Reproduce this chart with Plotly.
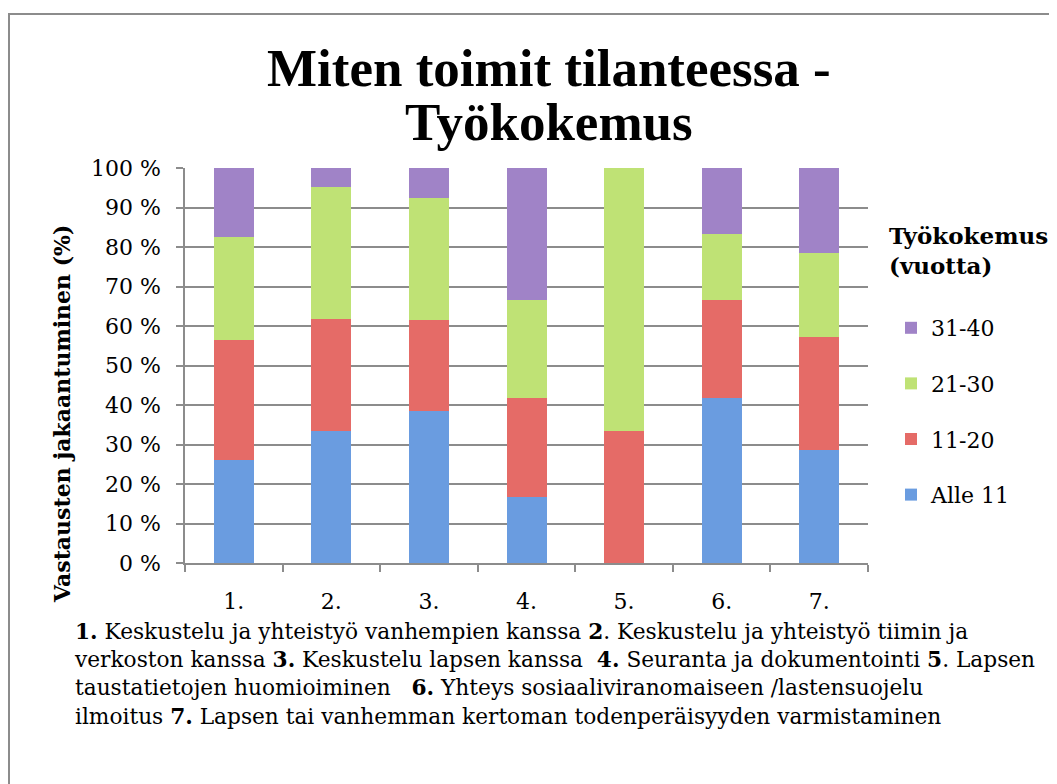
import plotly.graph_objects as go

# vastausvaihtoehdot 1.-7.
categories = ["1.", "2.", "3.", "4.", "5.", "6.", "7."]

# osuudet (%) työkokemuksen mukaan
alle_11 = [26.1, 33.3, 38.5, 16.7, 0.0, 41.7, 28.6]
v11_20 = [30.4, 28.6, 23.1, 25.0, 33.3, 25.0, 28.6]
v21_30 = [26.1, 33.3, 30.8, 25.0, 66.7, 16.7, 21.4]
v31_40 = [17.4, 4.8, 7.7, 33.3, 0.0, 16.7, 21.4]

series_names = ["Alle 11", "11-20", "21-30", "31-40"]
series_values = [alle_11, v11_20, v21_30, v31_40]
colors = ["#6a9ce0", "#e56b67", "#bfe275", "#a083c7"]

y_ticks = list(range(0, 101, 10))

FONT = "DejaVu Serif"
TITLE_FONT = "Liberation Serif"
GRAY = "#8c8c8c"

OFF = 8  # sivun oletusreunus
W, H = 1057 - OFF, 784 - OFF
ML, MT = 185 - OFF, 168 - OFF
MR, MB = W - (868 - OFF), H - (563 - OFF)
pw, ph = W - ML - MR, H - MT - MB


def px_x(p):
    return (p - OFF - ML) / pw


def px_y(p):
    return (H - MB - (p - OFF)) / ph


fig = go.Figure()
for i, (name, vals, col) in enumerate(zip(series_names, series_values, colors)):
    fig.add_trace(go.Bar(
        x=categories, y=vals, name=name, legendgroup=name,
        legendrank=len(series_names) - i,
        marker=dict(color=col, line=dict(width=0)),
    ))

fig.update_layout(
    width=W, height=H,
    barmode="stack", bargap=0.59,
    margin=dict(l=ML, r=MR, t=MT, b=MB),
    paper_bgcolor="white", plot_bgcolor="white",
    font=dict(family=FONT, size=21, color="black"),
    legend=dict(
        x=px_x(891), xanchor="left", y=px_y(307), yanchor="top",
        traceorder="grouped", tracegroupgap=24,
        font=dict(family=FONT, size=22), itemwidth=30,
        bgcolor="rgba(0,0,0,0)",
    ),
    showlegend=True,
)

fig.update_yaxes(
    range=[0, 100], tickvals=y_ticks, ticktext=[f"{v} %" for v in y_ticks],
    showgrid=True, gridcolor=GRAY, gridwidth=1.5,
    showline=True, linecolor=GRAY, linewidth=1.5,
    ticks="outside", ticklen=7, tickcolor=GRAY, tickwidth=1.5,
    ticklabelstandoff=11,
    tickfont=dict(family=FONT, size=22), zeroline=False,
)
fig.update_xaxes(
    showline=True, linecolor=GRAY, linewidth=1.5,
    ticks="outside", tickson="boundaries", ticklen=7, tickcolor=GRAY, tickwidth=1.5,
    ticklabelstandoff=18,
    tickfont=dict(family=FONT, size=22), showgrid=False,
)

# otsikko kahtena rivinä
for line, yc in [("Miten toimit tilanteessa -", 68), ("Työkokemus", 122)]:
    fig.add_annotation(
        text=f"<b>{line}</b>", xref="paper", yref="paper",
        x=px_x(549), y=px_y(yc), xanchor="center", yanchor="middle",
        showarrow=False, font=dict(family=TITLE_FONT, size=53),
    )

# y-akselin otsikko
fig.add_annotation(
    text="<b>Vastausten jakaantuminen (%)</b>", xref="paper", yref="paper",
    x=px_x(62), y=px_y(414), xanchor="center", yanchor="middle", textangle=-90,
    showarrow=False, font=dict(family=FONT, size=22),
)

fig.add_annotation(
    text="<b>Työkokemus<br>(vuotta)</b>", xref="paper", yref="paper",
    x=px_x(887), y=px_y(220), xanchor="left", yanchor="top", align="left",
    showarrow=False, font=dict(family=FONT, size=23),
)

caption = (
    "<b>1.</b> Keskustelu ja yhteistyö vanhempien kanssa <b>2</b>. Keskustelu ja yhteistyö tiimin ja<br>"
    "verkoston kanssa <b>3.</b> Keskustelu lapsen kanssa  <b>4.</b> Seuranta ja dokumentointi <b>5</b>. Lapsen<br>"
    "taustatietojen huomioiminen   <b>6.</b> Yhteys sosiaaliviranomaiseen /lastensuojelu<br>"
    "ilmoitus <b>7.</b> Lapsen tai vanhemman kertoman todenperäisyyden varmistaminen"
)
fig.add_annotation(
    text=caption, xref="paper", yref="paper",
    x=px_x(72), y=px_y(617), xanchor="left", yanchor="top", align="left",
    showarrow=False, font=dict(family=FONT, size=21.7),
)

# reunaviiva koko kaavion ympärille
fig.add_shape(
    type="rect", xref="paper", yref="paper",
    x0=px_x(9), x1=px_x(1080), y0=px_y(820), y1=px_y(14),
    line=dict(color=GRAY, width=2), layer="below",
)

fig.write_html("out.html")
